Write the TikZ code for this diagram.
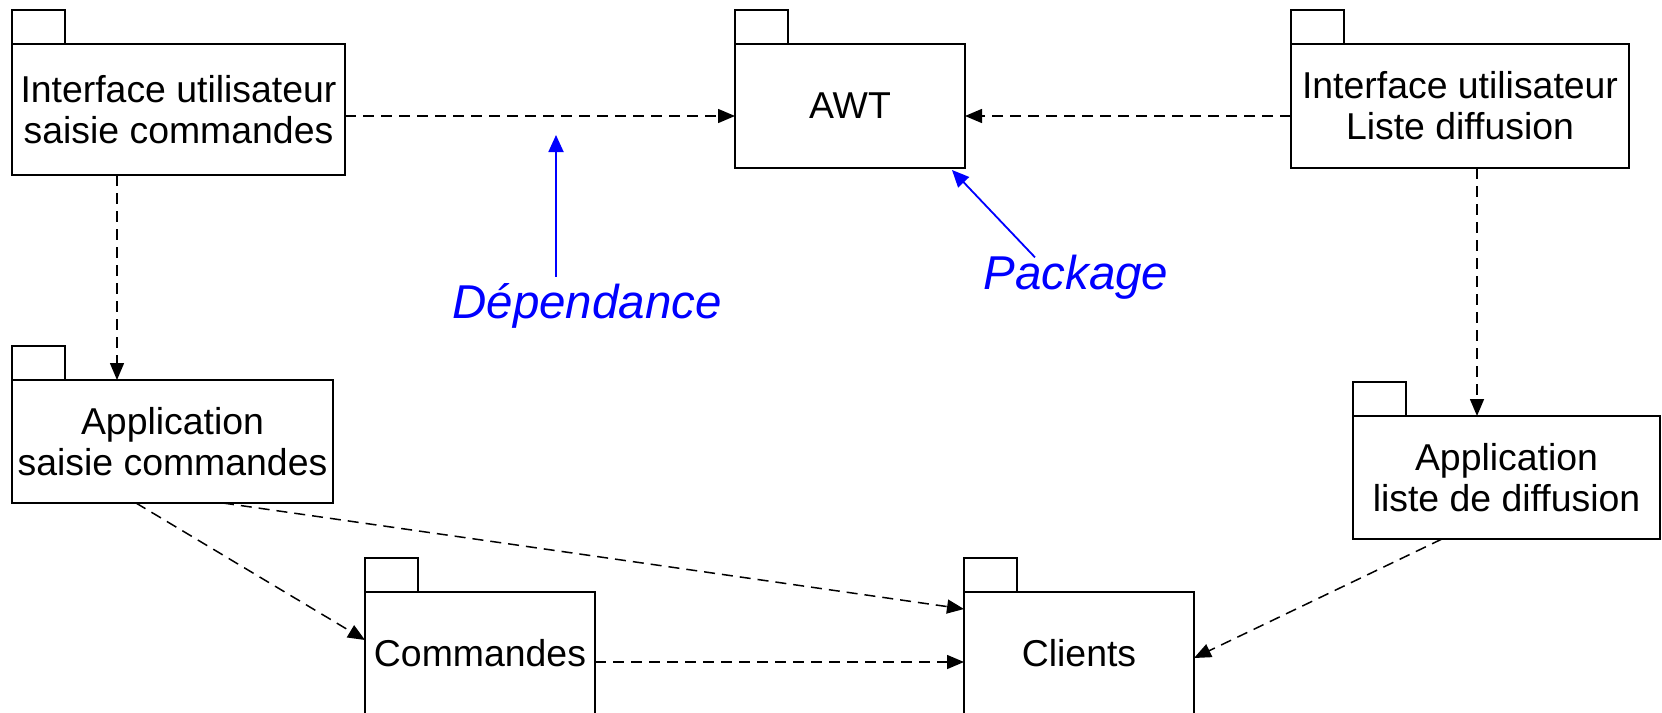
\documentclass[tikz,border=0pt]{standalone}
\usepackage{fontspec}
\setmainfont{Liberation Sans}
\usetikzlibrary{arrows.meta,calc}
\begin{document}
\begin{tikzpicture}[x=1pt,y=-1pt,
  pkgbox/.style={draw, line width=1.8pt, outer sep=0pt, inner sep=0pt, align=center,
    font=\fontsize{37.4}{41}\selectfont},
  tabbox/.style={draw, line width=1.8pt},
  dep/.style={line width=1.5pt, dash pattern=on 11pt off 7pt,
    -{Triangle[length=17pt,width=14pt]}},
  note/.style={blue, line width=1.8pt, -{Triangle[length=17pt,width=15pt]}},
  notetext/.style={text=blue, font=\fontsize{47.5}{51}\selectfont\itshape, inner sep=0pt, anchor=base}]
\useasboundingbox (0,0) rectangle (1662,712);

% packages
\node[pkgbox, minimum width=333pt, minimum height=131pt] (n1) at (178.5,109.5) {Interface utilisateur\\saisie commandes};
\node[pkgbox, minimum width=230pt, minimum height=124pt] (awt) at (850,106) {AWT};
\node[pkgbox, minimum width=338pt, minimum height=124pt] (n3) at (1460,106) {Interface utilisateur\\Liste diffusion};
\node[pkgbox, minimum width=321pt, minimum height=123pt] (n4) at (172.5,441.5) {Application\\saisie commandes};
\node[pkgbox, minimum width=307pt, minimum height=123pt] (n5) at (1506.5,477.5) {Application\\liste de diffusion};
\node[pkgbox, minimum width=230pt, minimum height=122pt] (cmd) at (480,653) {Commandes};
\node[pkgbox, minimum width=230pt, minimum height=122pt] (cli) at (1079,653) {Clients};

% tabs
\foreach \n in {n1,awt,n3,n4,n5,cmd,cli}
  \draw[tabbox] (\n.north west) rectangle ++(53,-34);

% dependencies
\draw[dep] ([yshift=-6.5pt]n1.east) -- ([yshift=-10pt]awt.west);
\draw[dep] ([yshift=-10pt]n3.west) -- ([yshift=-10pt]awt.east);
\draw[dep] ([xshift=-61.5pt]n1.south) -- ([xshift=-55.5pt]n4.north);
\draw[dep] ([xshift=17pt]n3.south) -- ([xshift=-29.5pt]n5.north);
\draw[dep] ([xshift=-36.5pt]n4.south) -- ([yshift=13pt]cmd.west);
\draw[dep] ([xshift=50.5pt]n4.south) -- ([yshift=44pt]cli.west);
\draw[dep] ([yshift=-9pt]cmd.east) -- ([yshift=-9pt]cli.east -| cli.west);
\draw[dep] ([xshift=-64.5pt]n5.south) -- ([yshift=-5pt]cli.east);

% annotations
\node[notetext] (deptext) at (587,318) {Dépendance};
\coordinate (depTip) at (556,135);
\draw[note] ($(deptext.north -| depTip)+(0,-6)$) -- (depTip);

\node[notetext] (pkgtext) at (1076,289) {Package};
\draw[note] ($(pkgtext.north)+(-41,3)$) -- ([xshift=-13pt,yshift=-2pt]awt.south east);
\end{tikzpicture}
\end{document}
